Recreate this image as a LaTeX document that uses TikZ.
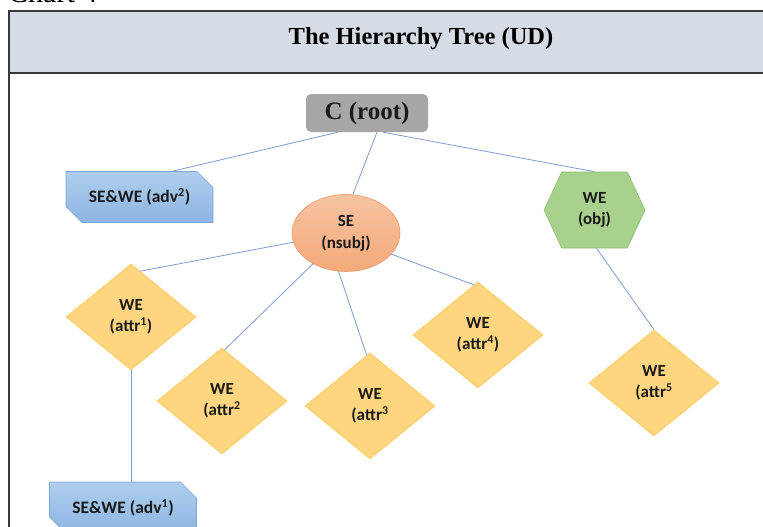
\documentclass[tikz,border=0pt]{standalone}
\usepackage{fontspec}
\setmainfont{Liberation Serif}
\newfontfamily\lblfont{Carlito}
\usetikzlibrary{shapes.geometric,shapes.misc,shapes.symbols,calc}
\definecolor{bandfill}{HTML}{D6DCE5}
\definecolor{framecol}{HTML}{3A3A3A}
\definecolor{rootfill}{HTML}{A6A6A6}
\definecolor{advtop}{HTML}{AECEEE}
\definecolor{advbot}{HTML}{8DB4E2}
\definecolor{advdraw}{HTML}{7EA5D6}
\definecolor{sefill}{HTML}{F4A97A}
\definecolor{setop}{HTML}{F7C3A0}
\definecolor{sedraw}{HTML}{EE9A66}
\definecolor{objfill}{HTML}{A9D18E}
\definecolor{objdraw}{HTML}{8CC06A}
\definecolor{attrfill}{HTML}{FFD580}
\definecolor{attrdraw}{HTML}{FAC858}
\definecolor{edgecol}{HTML}{7F9BD0}
\definecolor{txt}{HTML}{1A1A1A}
\begin{document}
\begin{tikzpicture}[x=1pt,y=-1pt,
  lbl/.style={font=\lblfont\bfseries\fontsize{17}{21}\selectfont, align=center, text=txt},
  rootbox/.style={rectangle, rounded corners=5pt, fill=rootfill, minimum width=122pt, minimum height=38pt, inner sep=0pt, text=txt, font=\bfseries\fontsize{25}{25}\selectfont},
  advbox/.style={chamfered rectangle, chamfered rectangle corners={north east,south west}, chamfered rectangle xsep=8pt, chamfered rectangle ysep=8pt, minimum width=147pt, minimum height=51pt, inner sep=0pt, top color=advtop, bottom color=advbot, draw=advdraw, line width=0.6pt, lbl, font=\lblfont\bfseries\fontsize{17.5}{21}\selectfont},
  sebox/.style={ellipse, minimum width=108pt, minimum height=77pt, inner sep=0pt, top color=setop, bottom color=sefill, draw=sedraw, line width=0.6pt, lbl, font=\lblfont\bfseries\fontsize{17}{22}\selectfont},
  hexbox/.style={signal, signal to=east and west, signal pointer angle=130, minimum width=101pt, minimum height=76pt, inner sep=0pt, fill=objfill, draw=objdraw, line width=0.6pt, lbl},
  diam/.style={diamond, minimum width=130pt, minimum height=106pt, inner sep=0pt, fill=attrfill, draw=attrdraw, line width=0.6pt, lbl},
  edge/.style={draw=edgecol, line width=0.8pt}]
\useasboundingbox (0,0) rectangle (763,527);
\fill[white] (0,0) rectangle (763,527);
% frame and title band
\node[anchor=base west, inner sep=0pt, font=\fontsize{30}{30}\selectfont] (chart) at (8,3) {Chart 4};
\fill[bandfill] (9,11) rectangle (790,73);
\draw[framecol, line width=1.4pt] (790,11) -- (9,11) -- (9,560);
\draw[framecol, line width=1.2pt] (9,73) -- (790,73);
\node[anchor=base, inner sep=0pt, font=\bfseries\fontsize{24.5}{25}\selectfont] (title) at (421,45) {The Hierarchy Tree (UD)};
% nodes
\node[rootbox] (root) at (367,113) {C (root)};
\node[advbox] (adv2) at (139.5,197) {SE\&WE (adv\textsuperscript{2})};
\node[sebox] (se) at (346,233) {SE\\(nsubj)};
\node[hexbox] (obj) at (594.5,210) {WE\\(obj)};
\node[diam] (a1) at (131,317) {WE\\(attr\textsuperscript{1})};
\node[diam] (a2) at (222,401) {WE\\(attr\textsuperscript{2}};
\node[diam] (a3) at (370,406) {WE\\(attr\textsuperscript{3}};
\node[diam] (a4) at (478,335) {WE\\(attr\textsuperscript{4})};
\node[diam] (a5) at (654,383) {WE\\(attr\textsuperscript{5}};
\node[advbox] (adv1) at (123,507.5) {SE\&WE (adv\textsuperscript{1})};
% connectors
\draw[edge] ($(root.south)+(-29,0)$) -- ($(adv2.north)+(33,0)$);
\draw[edge] ($(root.south)+(10,0)$) -- (se.80);
\draw[edge] ($(root.south)+(16,0)$) -- (obj.north);
\draw[edge] (se.190) -- ($(a1.north)!0.14!(a1.east)$);
\draw[edge] (se.223) -- ($(a2.north)!0.04!(a2.east)$);
\draw[edge] (se.259) -- ($(a3.north)!0.05!(a3.west)$);
\draw[edge] (se.335) -- ($(a4.north)!0.06!(a4.west)$);
\draw[edge] ($(obj.south)+(2,0)$) -- (a5.north);
\draw[edge] (a1.south) -- (a1.south |- adv1.north);
\end{tikzpicture}
\end{document}
